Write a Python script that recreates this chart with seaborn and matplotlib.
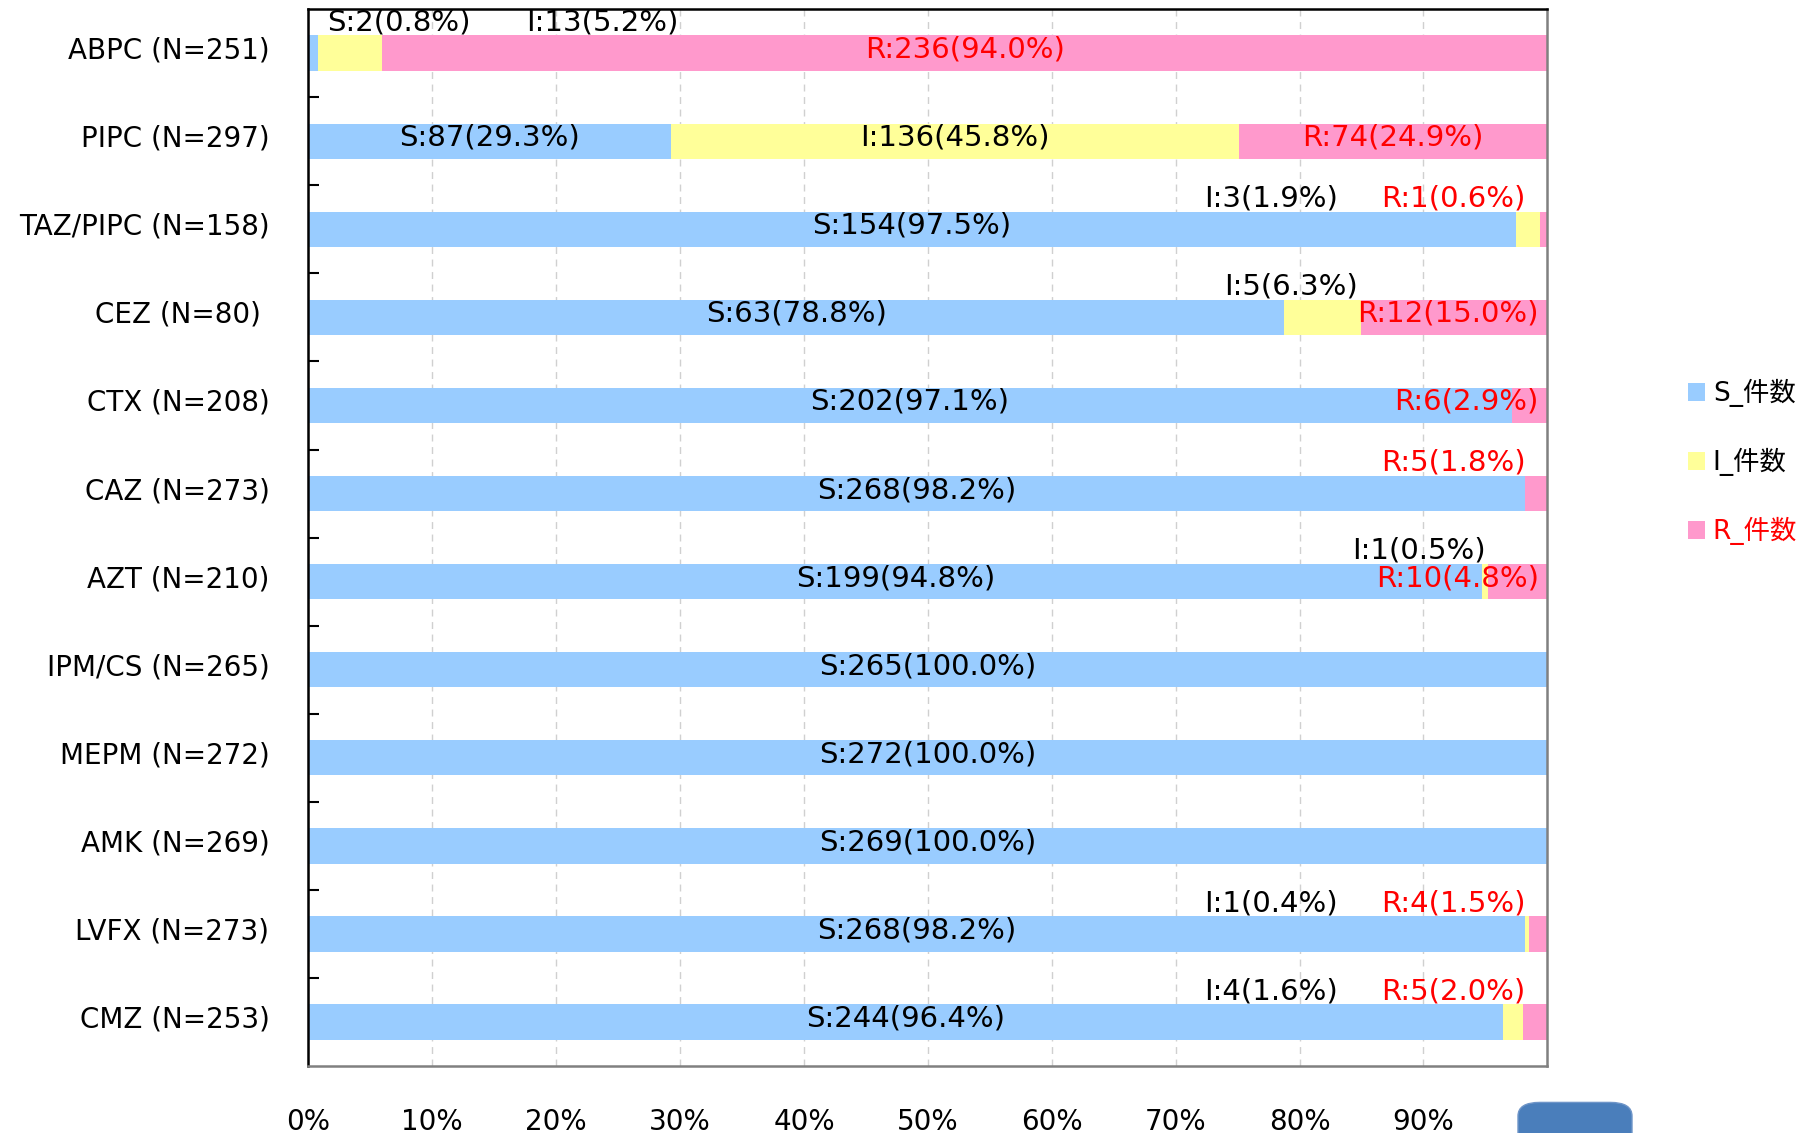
import numpy as np
import pandas as pd
import matplotlib
matplotlib.use("Agg")
import matplotlib.pyplot as plt
import matplotlib.transforms as mtransforms
from matplotlib.patches import Patch, FancyBboxPatch
import seaborn as sns

# ---------------- data ----------------
drugs = ["ABPC (N=251)", "PIPC (N=297)", "TAZ/PIPC (N=158)", "CEZ (N=80) ", "CTX (N=208)",
         "CAZ (N=273)", "AZT (N=210)", "IPM/CS (N=265)", "MEPM (N=272)", "AMK (N=269)",
         "LVFX (N=273)", "CMZ (N=253)"]
keys = ["ABPC", "PIPC", "TAZ/PIPC", "CEZ", "CTX", "CAZ", "AZT", "IPM/CS", "MEPM", "AMK", "LVFX", "CMZ"]
s_count = [2, 87, 154, 63, 202, 268, 199, 265, 272, 269, 268, 244]
i_count = [13, 136, 3, 5, 0, 0, 1, 0, 0, 0, 1, 4]
r_count = [236, 74, 1, 12, 6, 5, 10, 0, 0, 0, 4, 5]
xtick_values = [0, 10, 20, 30, 40, 50, 60, 70, 80, 90]
xtick_labels = ["0%", "10%", "20%", "30%", "40%", "50%", "60%", "70%", "80%", "90%"]
legend_labels = ["S_件数", "I_件数", "R_件数"]

# label placement (annotation layout, not data)
above_pos = {("ABPC", "S"): 7.3, ("ABPC", "I"): 23.7,
             ("TAZ/PIPC", "I"): 77.7, ("TAZ/PIPC", "R"): 92.4,
             ("CEZ", "I"): 79.3, ("CAZ", "R"): 92.4, ("AZT", "I"): 89.6,
             ("LVFX", "I"): 77.7, ("LVFX", "R"): 92.4,
             ("CMZ", "I"): 77.7, ("CMZ", "R"): 92.4}
right_inside = {("CTX", "R"), ("AZT", "R"), ("CEZ", "R")}

C_S, C_I, C_R = "#99CCFF", "#FFFF99", "#FF99CC"

# ---------------- figure ----------------
sns.set_theme(style="white")
plt.rcParams["font.family"] = ["DejaVu Sans", "Noto Sans CJK JP"]

s = np.array(s_count, float)
i = np.array(i_count, float)
r = np.array(r_count, float)
n = s + i + r
df = pd.DataFrame({"drug": drugs,
                   "S": s / n * 100,
                   "SI": (s + i) / n * 100,
                   "ALL": (s + i + r) / n * 100})

fig, ax = plt.subplots(figsize=(18.14, 11.33), dpi=100)
fig.subplots_adjust(left=0.170, right=0.853, top=0.992, bottom=0.059)

bw = 0.4
for col, c in [("ALL", C_R), ("SI", C_I), ("S", C_S)]:
    sns.barplot(data=df, x=col, y="drug", orient="h", color=c, saturation=1,
                width=bw, linewidth=0, ax=ax)

ax.set_xlim(0, 100)
ax.set_ylim(len(drugs) - 0.5, -0.5)
ax.set_xlabel("")
ax.set_ylabel("")

ax.set_xticks(xtick_values)
ax.set_xticklabels(xtick_labels)
ax.tick_params(axis="x", length=0, pad=30, labelsize=20, colors="black")
ax.tick_params(axis="y", which="major", length=0, pad=28, labelsize=20, colors="black")
ax.set_yticks(np.arange(0.5, len(drugs) - 1, 1), minor=True)
ax.tick_params(axis="y", which="minor", direction="in", length=8, width=1.5, color="black", left=True)

# lift the category labels slightly, as in the reference
shift = mtransforms.ScaledTranslation(0, 4 / 72, fig.dpi_scale_trans)
for lab in ax.get_yticklabels():
    lab.set_transform(lab.get_transform() + shift)

ax.set_axisbelow(True)
ax.xaxis.grid(True, linestyle=(0, (5, 4)), color="#D0D0D0", linewidth=1)
ax.yaxis.grid(False)

for sp in ["left", "top"]:
    ax.spines[sp].set_color("black")
    ax.spines[sp].set_linewidth(1.8)
for sp in ["right", "bottom"]:
    ax.spines[sp].set_color("#808080")
    ax.spines[sp].set_linewidth(1.8)


def pct(v):
    return f"{np.floor(v * 10 + 0.5 + 1e-9) / 10:.1f}"


# ---------------- labels ----------------
fs = 21
for k in range(len(drugs)):
    segs = [("S", s[k], 0, s[k] / n[k] * 100, "black"),
            ("I", i[k], s[k] / n[k] * 100, (s[k] + i[k]) / n[k] * 100, "black"),
            ("R", r[k], (s[k] + i[k]) / n[k] * 100, 100.0, "red")]
    for name, cnt, x0, x1, tc in segs:
        if cnt == 0:
            continue
        txt = f"{name}:{int(cnt)}({pct(cnt / n[k] * 100)}%)"
        key = (keys[k], name)
        if key in above_pos:
            ax.text(above_pos[key], k - 0.35, txt, ha="center", va="center",
                    fontsize=fs, color=tc)
        elif key in right_inside:
            ax.text(99.3, k - 0.04, txt, ha="right", va="center", fontsize=fs, color=tc)
        else:
            ax.text((x0 + x1) / 2, k - 0.04, txt, ha="center", va="center",
                    fontsize=fs, color=tc)

# ---------------- legend ----------------
handles = [Patch(facecolor=c, edgecolor="none") for c in (C_S, C_I, C_R)]
leg = fig.legend(handles, legend_labels, loc="center left",
                 bbox_to_anchor=(1664 / 1814, 0.592), frameon=False,
                 fontsize=19, handlelength=0.65, handleheight=0.65,
                 handletextpad=0.3, labelspacing=1.55)
for t, c in zip(leg.get_texts(), ["black", "black", "red"]):
    t.set_color(c)

# decorative button at bottom right
btn = FancyBboxPatch((1518 / 1814, -0.03), 114 / 1814, 0.057,
                     boxstyle="round,pad=0,rounding_size=0.012",
                     transform=fig.transFigure, facecolor="#4A7EBB",
                     edgecolor="#6F95C8", linewidth=1, clip_on=False)
fig.patches.append(btn)

fig.savefig("out.png", dpi=100)
